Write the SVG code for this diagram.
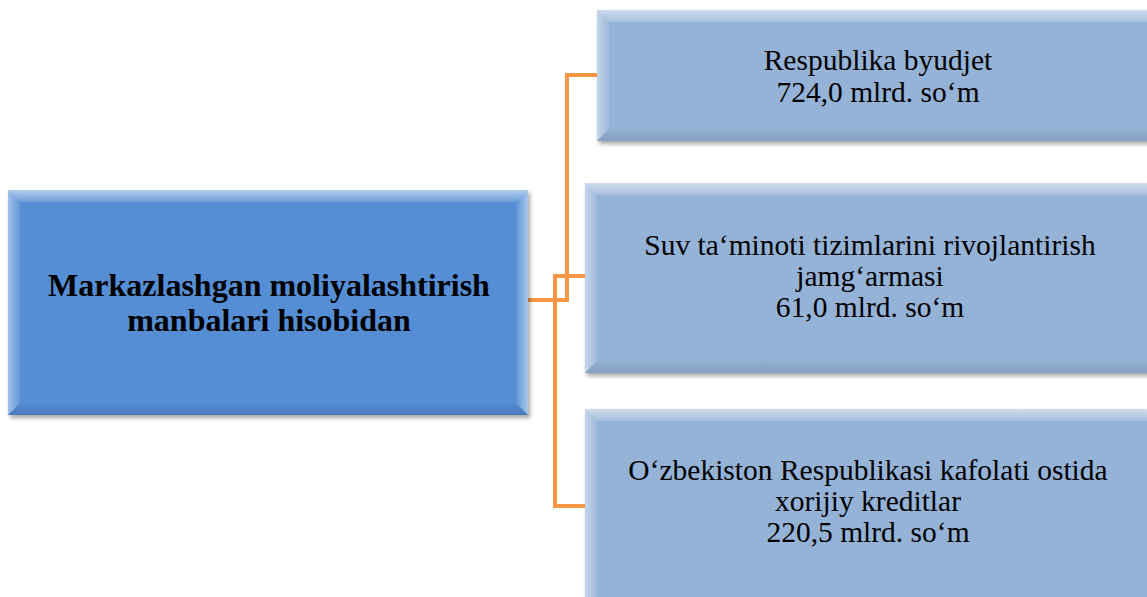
<svg xmlns="http://www.w3.org/2000/svg" width="1147" height="597" viewBox="0 0 1147 597">
<defs>
<filter id="sh" x="-5%" y="-5%" width="115%" height="120%">
<feDropShadow dx="2" dy="3" stdDeviation="2" flood-color="#000" flood-opacity="0.35"/>
</filter>
<linearGradient id="gTop" x1="0" y1="0" x2="0" y2="1">
<stop offset="0" stop-color="#fff" stop-opacity="0.55"/>
<stop offset="1" stop-color="#fff" stop-opacity="0.15"/>
</linearGradient>
<linearGradient id="gLeft" x1="0" y1="0" x2="1" y2="0">
<stop offset="0" stop-color="#fff" stop-opacity="0.45"/>
<stop offset="1" stop-color="#fff" stop-opacity="0.1"/>
</linearGradient>
<linearGradient id="gRight" x1="1" y1="0" x2="0" y2="0">
<stop offset="0" stop-color="#fff" stop-opacity="0.5"/>
<stop offset="1" stop-color="#fff" stop-opacity="0.05"/>
</linearGradient>
<linearGradient id="gBot" x1="0" y1="1" x2="0" y2="0">
<stop offset="0" stop-color="#000" stop-opacity="0.12"/>
<stop offset="1" stop-color="#000" stop-opacity="0.02"/>
</linearGradient>
</defs>
<style>
.main{fill:#558ED5}
.sub{fill:#95B3D7}
.bt{fill:url(#gTop)}
.bl{fill:url(#gLeft)}
.br{fill:url(#gRight)}
.bb{fill:url(#gBot)}
.conn{fill:none;stroke:#F79646;stroke-width:4;stroke-linejoin:miter}
.t{font-family:"Liberation Serif","Times New Roman",serif;fill:#000;text-anchor:middle}
.tm{font-size:32px;font-weight:bold}
.ts{font-size:29.5px}
</style>
<rect width="1147" height="597" fill="#fff"/>
<g id="connectors">
<path class="conn" d="M528,300 H567 V75 H597"/>
<path class="conn" d="M528,300 H555 V276 H585"/>
<path class="conn" d="M528,300 H555 V506 H585"/>
</g>
<g id="node-main">
<g filter="url(#sh)">
<rect class="main" x="8" y="190" width="520" height="225"/>
</g>
<polygon class="bt" points="8,190 528,190 516,202 20,202"/>
<polygon class="bl" points="8,190 20,202 20,403 8,415"/>
<polygon class="br" points="528,190 528,415 516,403 516,202"/>
<polygon class="bb" points="8,415 528,415 516,403 20,403"/>
<text class="t tm" x="269" y="296">Markazlashgan moliyalashtirish</text>
<text class="t tm" x="269" y="331">manbalari hisobidan</text>
</g>
<g id="node-1">
<g filter="url(#sh)">
<rect class="sub" x="597" y="10" width="563" height="131"/>
</g>
<polygon class="bt" points="597,10 1160,10 1148,22 609,22"/>
<polygon class="bl" points="597,10 609,22 609,129 597,141"/>
<polygon class="bb" points="597,141 1160,141 1148,129 609,129"/>
<text class="t ts" x="878" y="70">Respublika byudjet</text>
<text class="t ts" x="878" y="102">724,0 mlrd. so‘m</text>
</g>
<g id="node-2">
<g filter="url(#sh)">
<rect class="sub" x="585" y="183" width="575" height="190"/>
</g>
<polygon class="bt" points="585,183 1160,183 1148,195 597,195"/>
<polygon class="bl" points="585,183 597,195 597,361 585,373"/>
<polygon class="bb" points="585,373 1160,373 1148,361 597,361"/>
<text class="t ts" x="870" y="255">Suv ta‘minoti tizimlarini rivojlantirish</text>
<text class="t ts" x="870" y="286">jamg‘armasi</text>
<text class="t ts" x="870" y="317">61,0 mlrd. so‘m</text>
</g>
<g id="node-3">
<g filter="url(#sh)">
<rect class="sub" x="585" y="409" width="575" height="200"/>
</g>
<polygon class="bt" points="585,409 1160,409 1148,421 597,421"/>
<polygon class="bl" points="585,409 597,421 597,609 585,609"/>
<text class="t ts" x="868" y="480">O‘zbekiston Respublikasi kafolati ostida</text>
<text class="t ts" x="868" y="511">xorijiy kreditlar</text>
<text class="t ts" x="868" y="542">220,5 mlrd. so‘m</text>
</g>
</svg>
